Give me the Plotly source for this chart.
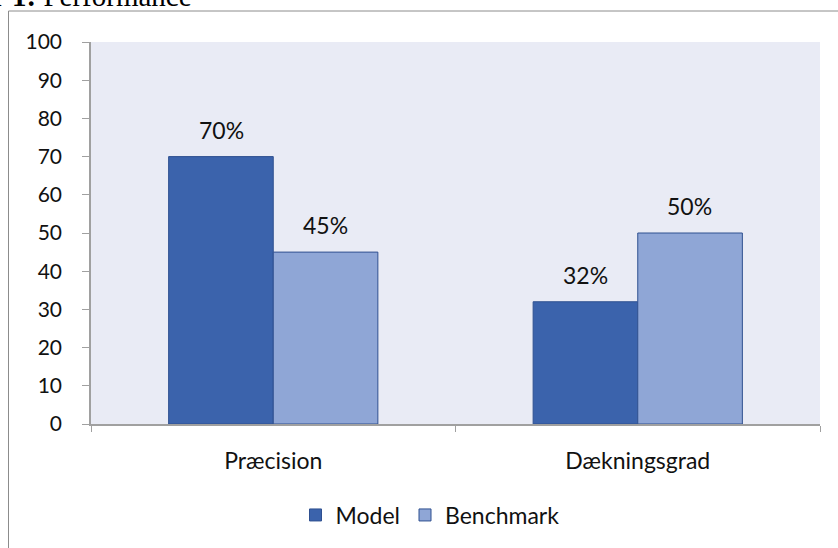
import plotly.graph_objects as go

categories = ["Præcision", "Dækningsgrad"]
model_values = [70, 32]
benchmark_values = [45, 50]
series_names = ["Model", "Benchmark"]
y_ticks = [0, 10, 20, 30, 40, 50, 60, 70, 80, 90, 100]

W, H = 838, 548
L, R, T, B = 91, W - 820, 42, H - 424
PW, PH = W - L - R, H - T - B

def px_x(x):
    return (x - L) / PW

def px_y(y):
    return (H - B - y) / PH

FONT = "Lato"
model_color = "#3B63AC"
bench_color = "#8FA6D6"
edge_color = "#2F5090"
BAR_HALF = 52  # pixel offset of each bar center from category center

fig = go.Figure()
fig.add_trace(go.Bar(
    x=categories, y=model_values, name=series_names[0],
    marker=dict(color=model_color, line=dict(color=edge_color, width=1)),
))
fig.add_trace(go.Bar(
    x=categories, y=benchmark_values, name=series_names[1],
    marker=dict(color=bench_color, line=dict(color=edge_color, width=1)),
))

annotations = []
for vals, shift in ((model_values, -BAR_HALF), (benchmark_values, BAR_HALF)):
    for cat, v in zip(categories, vals):
        annotations.append(dict(
            x=cat, y=v, xref="x", yref="y", xshift=shift, yshift=27,
            text=f"{v}%", showarrow=False, xanchor="center", yanchor="middle",
            font=dict(family=FONT, size=23, color="#111111"),
        ))

annotations.append(dict(
    text="<b>Figur 1:</b> Performance", xref="paper", yref="paper",
    x=px_x(194), xanchor="right", y=px_y(14), yanchor="bottom",
    showarrow=False, font=dict(family="Liberation Serif", size=29, color="#000000"),
))

fig.update_layout(
    width=W, height=H,
    margin=dict(l=L, r=R, t=T, b=B, pad=0),
    paper_bgcolor="white",
    plot_bgcolor="#E9EBF5",
    barmode="group", bargap=0.426, bargroupgap=0,
    font=dict(family=FONT, size=23, color="#111111"),
    showlegend=True,
    legend=dict(orientation="h", x=px_x(430), xanchor="center",
                y=px_y(515), yanchor="middle",
                font=dict(family=FONT, size=23, color="#111111"),
                bgcolor="rgba(0,0,0,0)", traceorder="normal"),
    xaxis=dict(showgrid=False, showline=True, linecolor="#A0A0A0", linewidth=1.5,
               ticks="outside", tickson="boundaries", ticklen=6, tickcolor="#A0A0A0",
               ticklabelstandoff=16, fixedrange=True),
    yaxis=dict(range=[0, 100], tickvals=y_ticks, showgrid=False, zeroline=False,
               showline=True, linecolor="#A0A0A0", linewidth=1.5,
               ticks="outside", ticklen=7, tickcolor="#A0A0A0",
               tickfont=dict(family=FONT, size=21, color="#111111"),
               ticklabelstandoff=16, fixedrange=True),
    shapes=[
        dict(type="line", xref="paper", yref="paper",
             x0=px_x(8.5), x1=px_x(850), y0=px_y(11), y1=px_y(11),
             line=dict(color="#8C8C8C", width=1)),
        dict(type="line", xref="paper", yref="paper",
             x0=px_x(8.5), x1=px_x(8.5), y0=px_y(11), y1=px_y(560),
             line=dict(color="#8C8C8C", width=1)),
    ],
    annotations=annotations,
)

fig.write_html("out.html", config={"displayModeBar": False},
               post_script="document.body.style.margin='0px';")
